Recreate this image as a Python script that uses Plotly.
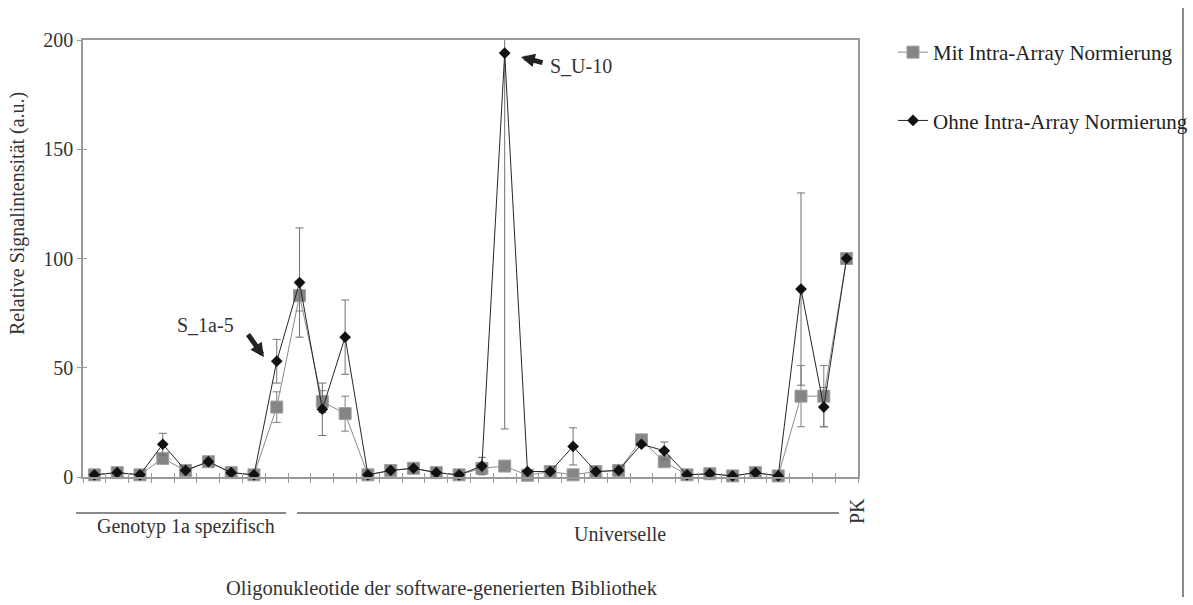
import plotly.graph_objects as go

# ---------------- data ----------------
positions = list(range(34))
mit_values = [1, 2, 1, 8.5, 3, 7, 2, 1, 32, 83, 34.5, 29, 1, 3, 4, 2, 1, 4, 5, 0.8,
              2.5, 1, 2.5, 3, 17, 7, 1, 1.5, 0.5, 2, 0.5, 37, 37, 100]
ohne_values = [1, 2, 1, 15, 3, 7, 2, 1, 53, 89, 31, 64, 1, 3, 4, 2, 1, 5, 194, 2.5,
               2.5, 14, 2.5, 3, 15, 12, 1, 1.5, 0.5, 2, 0.5, 86, 32, 100]
mit_err = [0, 0, 0, 0, 0, 0, 0, 0, 7, 7, 5, 8, 0, 0, 0, 0, 0, 0, 0, 0,
           0, 0, 0, 0, 0, 0, 0, 0, 0, 0, 0, 14, 14, 0]
ohne_err_plus = [0, 0, 0, 5, 0, 0, 0, 0, 10, 25, 12, 17, 0, 0, 0, 0, 0, 4, 8, 0,
                 0, 8.5, 0, 0, 0, 4, 0, 0, 0, 0, 0, 44, 9, 0]
ohne_err_minus = [0, 0, 0, 5, 0, 0, 0, 0, 10, 25, 12, 17, 0, 0, 0, 0, 0, 4, 172, 0,
                  0, 8.5, 0, 0, 0, 4, 0, 0, 0, 0, 0, 44, 9, 0]
series_names = ["Mit Intra-Array Normierung", "Ohne Intra-Array Normierung"]
y_ticks = [0, 50, 100, 150, 200]
group_labels = ["Genotyp 1a spezifisch", "Universelle", "PK"]

FONT = "Liberation Serif, Times New Roman, serif"
AX = "#9a9a9a"
FS = 20

fig = go.Figure()
fig.add_trace(go.Scatter(
    x=positions, y=mit_values, name=series_names[0], mode="lines+markers",
    legendgroup="a",
    line=dict(color="#8c8c8c", width=1),
    marker=dict(symbol="square", size=12, color="#858585",
                line=dict(color="#a0a0a0", width=1)),
    error_y=dict(type="data", array=mit_err, color="#808080", thickness=1, width=4),
    cliponaxis=False,
))
fig.add_trace(go.Scatter(
    x=positions, y=ohne_values, name=series_names[1], mode="lines+markers",
    legendgroup="b",
    line=dict(color="#262626", width=1),
    marker=dict(symbol="diamond", size=9, color="#111111"),
    error_y=dict(type="data", symmetric=False, array=ohne_err_plus,
                 arrayminus=ohne_err_minus, color="#707070", thickness=1, width=4),
    cliponaxis=False,
))
# overlay axes to produce ticks crossing the axis lines
fig.add_trace(go.Scatter(x=[], y=[], xaxis="x2", yaxis="y2", showlegend=False))

bounds = [p - 0.5 for p in positions] + [positions[-1] + 0.5]


def px(x):
    return (x - 83) / 775.0


def py(y):
    return (477 - y) / 437.0


fig.update_layout(
    width=1193, height=605,
    margin=dict(l=83, r=335, t=40, b=128, autoexpand=False),
    paper_bgcolor="white", plot_bgcolor="white",
    font=dict(family=FONT, size=FS, color="#333333"),
    showlegend=True,
    legend=dict(x=px(893), y=py(32), xanchor="left", yanchor="top",
                font=dict(family=FONT, size=21, color="#222222"),
                tracegroupgap=38, bgcolor="rgba(0,0,0,0)", itemwidth=30),
    xaxis=dict(range=[-0.5, 33.5], tickmode="array", tickvals=bounds,
               showticklabels=False, ticks="outside", ticklen=4, tickcolor=AX,
               showgrid=False, zeroline=False, showline=True, linecolor=AX,
               linewidth=1.5, mirror=True),
    yaxis=dict(range=[0, 200], tickmode="array", tickvals=y_ticks,
               ticks="outside", ticklen=4, tickcolor=AX, showgrid=False,
               zeroline=False, showline=True, linecolor=AX, linewidth=1.5,
               mirror=True, tickfont=dict(family=FONT, size=FS, color="#333333")),
    xaxis2=dict(overlaying="x", range=[-0.5, 33.5], tickmode="array", tickvals=bounds,
                showticklabels=False, ticks="inside", ticklen=4, tickcolor=AX,
                showgrid=False, zeroline=False, showline=False, anchor="y2"),
    yaxis2=dict(overlaying="y", range=[0, 200], tickmode="array", tickvals=y_ticks,
                showticklabels=False, ticks="inside", ticklen=4, tickcolor=AX,
                showgrid=False, zeroline=False, showline=False, anchor="x2"),
)

annotations = [
    dict(text="Relative Signalintensität (a.u.)", x=px(17), y=py(214), textangle=-90,
         font=dict(size=FS)),
    dict(text=group_labels[0], x=px(186), y=py(526), font=dict(size=FS)),
    dict(text=group_labels[1], x=px(620), y=py(534), font=dict(size=FS)),
    dict(text=group_labels[2], x=px(857), y=py(511), textangle=-90, font=dict(size=FS)),
    dict(text="Oligonukleotide der software-generierten Bibliothek", x=px(442), y=py(588),
         font=dict(size=FS + 0.5)),
    dict(text="S_1a-5", x=px(205), y=py(325), font=dict(size=FS)),
    dict(text="S_U-10", x=px(581), y=py(66), font=dict(size=FS)),
]
for a in annotations:
    a.update(xref="paper", yref="paper", showarrow=False, xanchor="center", yanchor="middle")
# arrows
annotations.append(dict(x=px(264), y=py(357), ax=-17, ay=-24, xref="paper", yref="paper",
                        showarrow=True, arrowhead=2, arrowsize=0.55, arrowwidth=5,
                        arrowcolor="#222222", text=""))
annotations.append(dict(x=px(521), y=py(57), ax=23, ay=6, xref="paper", yref="paper",
                        showarrow=True, arrowhead=2, arrowsize=0.55, arrowwidth=5,
                        arrowcolor="#222222", text=""))
fig.update_layout(annotations=annotations)

shapes = [
    dict(type="line", xref="paper", yref="paper", x0=px(76), x1=px(286), y0=py(513), y1=py(513),
         line=dict(color="#8a8a8a", width=2)),
    dict(type="line", xref="paper", yref="paper", x0=px(297), x1=px(839), y0=py(513), y1=py(513),
         line=dict(color="#8a8a8a", width=2)),
    dict(type="line", xref="paper", yref="paper", x0=px(1183), x1=px(1183), y0=py(8), y1=py(597),
         line=dict(color="#8a8a8a", width=2)),
]
fig.update_layout(shapes=shapes)

fig.write_html("out.html")
